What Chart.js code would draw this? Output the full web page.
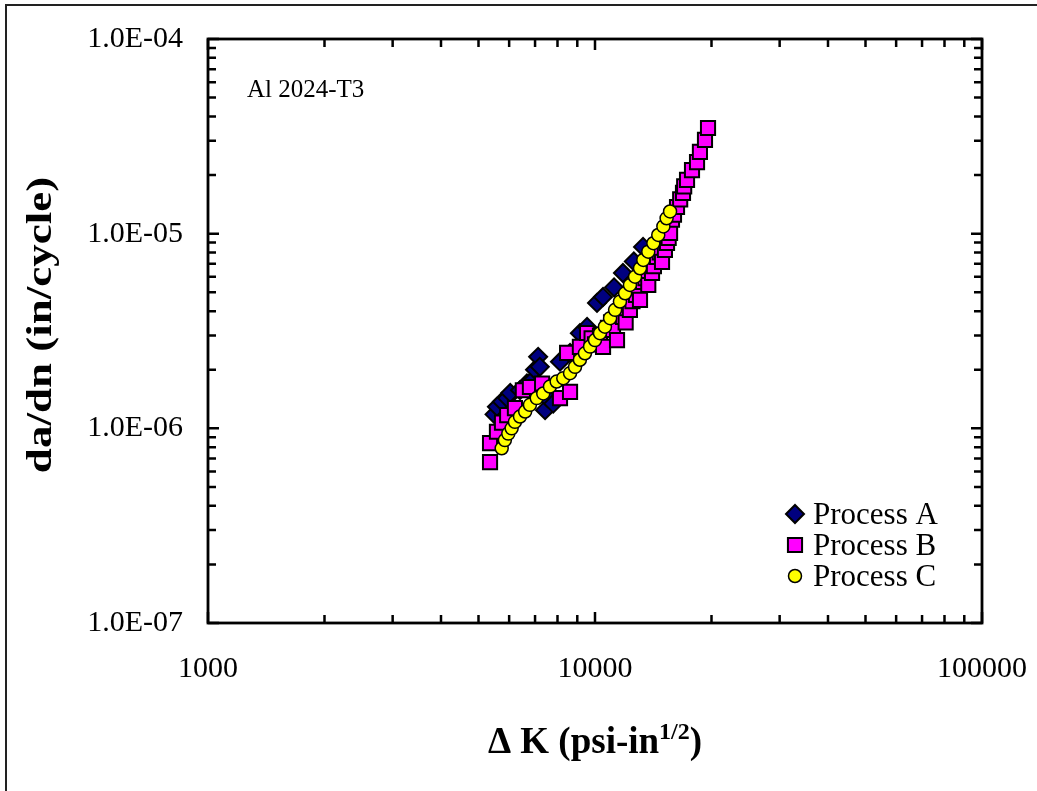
<!DOCTYPE html>
<html>
<head>
<meta charset="utf-8">
<script src="https://cdn.jsdelivr.net/npm/chart.js"></script>
<style>
  html, body { margin: 0; padding: 0; background: #fff; }
  #wrap { width: 1037px; height: 791px; }
</style>
</head>
<body>
<div id="wrap"><canvas id="graph" width="1037" height="791"></canvas></div>
<script>
// tick values (log axes)
const xTickValues = [1000, 10000, 100000];
const yTickValues = [1e-7, 1e-6, 1e-5, 1e-4];

// Process A (diamonds)
const processAX = [5500, 5580, 5750, 5930, 6040, 6400, 6670, 6900, 7000, 7130, 7200, 7430, 7540, 7800, 8120, 8620, 9140, 9540, 10120, 10490, 11200, 11810, 12600, 13310];
const processAY = [1.18e-6, 1.29e-6, 1.37e-6, 1.43e-6, 1.52e-6, 1.57e-6, 1.70e-6, 1.77e-6, 2.0e-6, 2.33e-6, 2.07e-6, 1.24e-6, 1.43e-6, 1.34e-6, 2.2e-6, 2.44e-6, 3.08e-6, 3.32e-6, 4.41e-6, 4.73e-6, 5.3e-6, 6.28e-6, 7.2e-6, 8.55e-6];

// Process B (squares)
const processBX = [5355, 5355, 5580, 5750, 5930, 6210, 6510, 6790, 7300, 8120, 8620, 8470, 9140, 9540, 9800, 10000, 10300, 10490, 10800, 11000, 11130, 11400, 11600, 11810, 12000, 12310, 12500, 12760, 13070, 13310, 13500, 13730, 14040, 14200, 14460, 14700, 14900, 15160, 15350, 15500, 15630, 15810, 16000, 16290, 16600, 16880, 17000, 17290, 17810, 18350, 18670, 19240, 19590];
const processBY = [6.7e-7, 8.4e-7, 9.6e-7, 1.07e-6, 1.17e-6, 1.27e-6, 1.57e-6, 1.63e-6, 1.7e-6, 1.43e-6, 1.54e-6, 2.44e-6, 2.62e-6, 3.09e-6, 2.9e-6, 2.7e-6, 3.0e-6, 2.62e-6, 3.28e-6, 3.5e-6, 3.2e-6, 2.84e-6, 3.9e-6, 3.73e-6, 3.5e-6, 4.06e-6, 4.5e-6, 4.84e-6, 4.57e-6, 5.65e-6, 5.9e-6, 5.45e-6, 6.28e-6, 6.8e-6, 7.6e-6, 8.0e-6, 7.16e-6, 8.25e-6, 8.96e-6, 9.5e-6, 1.01e-5, 1.18e-5, 1.25e-5, 1.37e-5, 1.5e-5, 1.62e-5, 1.75e-5, 1.89e-5, 2.12e-5, 2.33e-5, 2.63e-5, 3.03e-5, 3.49e-5];

// Process C (circles)
const processCX = [5740, 5850, 5970, 6090, 6210, 6400, 6600, 6790, 7070, 7350, 7650, 7960, 8280, 8620, 8880, 9140, 9420, 9710, 10000, 10300, 10610, 10940, 11270, 11600, 11960, 12310, 12690, 13070, 13330, 13730, 14150, 14570, 15020, 15310, 15630];
const processCY = [7.9e-7, 8.7e-7, 9.4e-7, 1.0e-6, 1.08e-6, 1.15e-6, 1.22e-6, 1.32e-6, 1.43e-6, 1.51e-6, 1.64e-6, 1.74e-6, 1.81e-6, 1.92e-6, 2.07e-6, 2.25e-6, 2.43e-6, 2.63e-6, 2.84e-6, 3.08e-6, 3.33e-6, 3.68e-6, 4.06e-6, 4.48e-6, 4.94e-6, 5.45e-6, 6.01e-6, 6.64e-6, 7.33e-6, 8.08e-6, 8.93e-6, 9.85e-6, 1.09e-5, 1.2e-5, 1.3e-5];

const SERIF = '"Liberation Serif", "Times New Roman", serif';

function toPoints(xs, ys) {
    return xs.map(function (x, i) { return { x: x, y: ys[i] }; });
}

// major decade + minor 2..9 ticks
function logTicks(majors) {
    const out = [];
    majors.forEach(function (d, i) {
        out.push({ value: d, major: true });
        if (i < majors.length - 1) {
            for (let m = 2; m <= 9; m++) out.push({ value: d * m, major: false });
        }
    });
    return out;
}

function isDecade(v) {
    const l = Math.log10(v);
    return Math.abs(l - Math.round(l)) < 1e-9;
}

function sciLabel(v) {
    const e = Math.round(Math.log10(v));
    const m = v / Math.pow(10, e);
    return m.toFixed(1) + "E" + (e < 0 ? "-" : "+") + String(Math.abs(e)).padStart(2, "0");
}

// frame, inside tick marks, outer border
const framePlugin = {
    id: "frame",
    beforeDatasetsDraw(chart) {
        const ctx = chart.ctx;
        const a = chart.chartArea;
        const xs = chart.scales.x;
        const ys = chart.scales.y;
        ctx.save();
        ctx.strokeStyle = "#000";
        ctx.lineWidth = 2.5;
        ctx.lineCap = "butt";
        xs.ticks.forEach(function (t) {
            const px = xs.getPixelForValue(t.value);
            const len = isDecade(t.value) ? 11 : 8;
            ctx.beginPath();
            ctx.moveTo(px, a.bottom); ctx.lineTo(px, a.bottom - len);
            ctx.moveTo(px, a.top); ctx.lineTo(px, a.top + len);
            ctx.stroke();
        });
        ys.ticks.forEach(function (t) {
            const py = ys.getPixelForValue(t.value);
            const len = isDecade(t.value) ? 11 : 8;
            ctx.beginPath();
            ctx.moveTo(a.left, py); ctx.lineTo(a.left + len, py);
            ctx.moveTo(a.right, py); ctx.lineTo(a.right - len, py);
            ctx.stroke();
        });
        ctx.lineWidth = 2.8;
        ctx.strokeRect(a.left, a.top, a.right - a.left, a.bottom - a.top);

        // outer chart border (only left/top visible)
        ctx.lineWidth = 2;
        ctx.strokeStyle = "#222";
        ctx.beginPath();
        ctx.moveTo(6, chart.height + 5);
        ctx.lineTo(6, 5);
        ctx.lineTo(chart.width + 5, 5);
        ctx.stroke();
        ctx.restore();
    },
    afterDraw(chart) {
        const ctx = chart.ctx;
        ctx.save();
        ctx.fillStyle = "#000";

        // annotation
        ctx.font = "25px " + SERIF;
        ctx.textBaseline = "alphabetic";
        ctx.textAlign = "left";
        ctx.fillText("Al 2024-T3", 247, 97);

        // legend
        const rows = [514, 545, 576];
        chart.data.datasets.forEach(function (ds, i) {
            const y = rows[i];
            ctx.fillStyle = ds.backgroundColor;
            ctx.strokeStyle = ds.borderColor;
            ctx.lineWidth = ds.borderWidth;
            Chart.helpers.drawPoint(ctx, {
                pointStyle: ds.pointStyle,
                radius: ds.pointRadius,
                borderWidth: ds.borderWidth,
                rotation: 0
            }, 795, y);
            ctx.fillStyle = "#000";
            ctx.font = "31px " + SERIF;
            ctx.fillText(ds.label, 813, y + 10);
        });

        // x axis title with superscript
        const main = "\u0394 K (psi-in";
        const sup = "1/2";
        const close = ")";
        ctx.font = "bold 37px " + SERIF;
        const w1 = ctx.measureText(main).width;
        const w3 = ctx.measureText(close).width;
        ctx.font = "bold 24px " + SERIF;
        const w2 = ctx.measureText(sup).width;
        const x0 = 595 - (w1 + w2 + w3) / 2;
        const base = 753;
        ctx.font = "bold 37px " + SERIF;
        ctx.fillText(main, x0, base);
        ctx.font = "bold 24px " + SERIF;
        ctx.fillText(sup, x0 + w1, base - 14);
        ctx.font = "bold 37px " + SERIF;
        ctx.fillText(close, x0 + w1 + w2, base);

        // y axis title (stretched along its length like the original)
        ctx.translate(42, 325);
        ctx.rotate(-Math.PI / 2);
        ctx.scale(1.25, 1);
        ctx.textAlign = "center";
        ctx.textBaseline = "middle";
        ctx.font = "bold 36px " + SERIF;
        ctx.fillText("da/dn (in/cycle)", 0, 0);
        ctx.restore();
    }
};

const ctx = document.getElementById("graph").getContext("2d");

new Chart(ctx, {
    type: "scatter",
    data: {
        datasets: [
            {
                label: "Process A",
                data: toPoints(processAX, processAY),
                pointStyle: "rectRot",
                pointRadius: 9,
                borderWidth: 2,
                backgroundColor: "#000080",
                borderColor: "#000000",
                order: 3
            },
            {
                label: "Process B",
                data: toPoints(processBX, processBY),
                pointStyle: "rect",
                pointRadius: 10,
                borderWidth: 2,
                backgroundColor: "#FF00FF",
                borderColor: "#000000",
                order: 2
            },
            {
                label: "Process C",
                data: toPoints(processCX, processCY),
                pointStyle: "circle",
                pointRadius: 6.5,
                borderWidth: 1.5,
                backgroundColor: "#FFFF00",
                borderColor: "#000000",
                order: 1
            }
        ]
    },
    options: {
        responsive: false,
        animation: false,
        layout: { padding: { top: 39, right: 55, left: 0, bottom: 0 } },
        plugins: {
            legend: { display: false },
            tooltip: { enabled: false }
        },
        scales: {
            x: {
                type: "logarithmic",
                position: "bottom",
                min: xTickValues[0],
                max: xTickValues[xTickValues.length - 1],
                grid: { display: false, drawTicks: false },
                border: { display: false },
                afterBuildTicks: function (scale) { scale.ticks = logTicks(xTickValues); },
                afterFit: function (scale) {
                    scale.height = 791 - 623;
                    scale.paddingLeft = 0;
                    scale.paddingRight = 0;
                    scale.paddingTop = 0;
                    scale.paddingBottom = 0;
                },
                ticks: {
                    autoSkip: false,
                    maxRotation: 0,
                    padding: 28,
                    color: "#000",
                    font: { family: SERIF, size: 30 },
                    callback: function (value) { return isDecade(value) ? String(Math.round(value)) : ""; }
                }
            },
            y: {
                type: "logarithmic",
                position: "left",
                min: yTickValues[0],
                max: yTickValues[yTickValues.length - 1],
                grid: { display: false, drawTicks: false },
                border: { display: false },
                afterBuildTicks: function (scale) { scale.ticks = logTicks(yTickValues); },
                afterFit: function (scale) {
                    scale.width = 208;
                    scale.paddingLeft = 0;
                    scale.paddingRight = 0;
                    scale.paddingTop = 0;
                    scale.paddingBottom = 0;
                },
                ticks: {
                    autoSkip: false,
                    padding: 25,
                    color: "#000",
                    font: { family: SERIF, size: 30 },
                    callback: function (value) { return isDecade(value) ? sciLabel(value) : ""; }
                }
            }
        }
    },
    plugins: [framePlugin]
});
</script>
</body>
</html>
